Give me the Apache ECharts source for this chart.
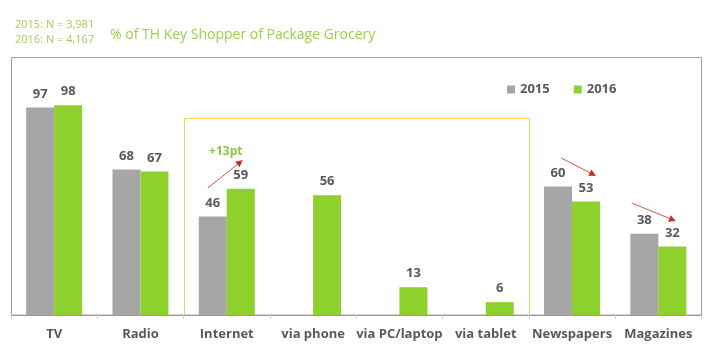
<!DOCTYPE html>
<html><head><meta charset="utf-8">
<script src="https://cdn.jsdelivr.net/npm/echarts@6/dist/echarts.min.js"></script>
<style>html,body{margin:0;padding:0;background:#fff}#c{width:719px;height:364px}</style>
</head><body><div id="c"></div>
<script>
const categories = ['TV','Radio','Internet','via phone','via PC/laptop','via tablet','Newspapers','Magazines'];
const values2015 = [97, 68, 46, null, null, null, 60, 38];
const values2016 = [98, 67, 59, 56, 13, 6, 53, 32];
const seriesNames = ['2015','2016'];
const sampleNotes = ['2015: N = 3,981','2016: N = 4,167'];
const titleText = '% of TH Key Shopper of Package Grocery';
const changeNote = '+13pt';

const GRAY = '#a6a6a6', GREEN = '#8ed12c', TXT = '#595959', FONT = '"Open Sans", sans-serif';
const chart = echarts.init(document.getElementById('c'), null, {renderer:'canvas'});
const labelStyle = {show:true, position:'top', distance:7, color:TXT, fontWeight:'bold', fontSize:13, fontFamily:FONT};
chart.setOption({
  animation:false,
  grid:{left:11, right:17.5, top:101, bottom:49},
  legend:{left:502, top:78, itemWidth:8, itemHeight:8, itemGap:24, icon:'rect',
    textStyle:{color:TXT, fontWeight:'bold', fontSize:13, fontFamily:FONT}, data:seriesNames},
  xAxis:{type:'category', data:categories,
    axisLine:{lineStyle:{color:'#9a9a9a', width:1}},
    axisTick:{show:true, length:4, lineStyle:{color:'#d0d0d0'}},
    axisLabel:{interval:0, color:TXT, fontWeight:'bold', fontSize:13, fontFamily:FONT, margin:13}},
  yAxis:{type:'value', min:0, max:100, show:false, splitLine:{show:false}},
  series:[
    {name:seriesNames[0], type:'bar', data:values2015, barWidth:28, barGap:'0%', itemStyle:{color:GRAY}, label:labelStyle},
    {name:seriesNames[1], type:'bar', data:values2016, barWidth:28, barGap:'0%', itemStyle:{color:GREEN}, label:labelStyle}
  ]
});

function px(cat, val){ return chart.convertToPixel({xAxisIndex:0, yAxisIndex:0}, [cat, val]); }
const c0 = px(0,0), c1 = px(1,0);
const band = c1[0]-c0[0];
const base = c0[1];

function arrow(cat, dx1, v1, dx2, v2){
  const a = px(cat, v1), b = px(cat, v2);
  const x1=a[0]+dx1, y1=a[1], x2=b[0]+dx2, y2=b[1];
  const ang = Math.atan2(y2-y1, x2-x1), L=7, W=3.5;
  const hx = x2 - L*Math.cos(ang), hy = y2 - L*Math.sin(ang);
  return [
    {type:'line', shape:{x1:x1,y1:y1,x2:hx,y2:hy}, style:{stroke:'#d9534f', lineWidth:1}},
    {type:'polygon', shape:{points:[[x2,y2],[hx+W*Math.sin(ang),hy-W*Math.cos(ang)],[hx-W*Math.sin(ang),hy+W*Math.cos(ang)]]}, style:{fill:'#c9302c'}}
  ];
}

const inetX = px(2,0)[0], tabX = px(5,0)[0];
const boxTop = Math.round(px(2, 92)[1])+0.5;
const bxL = Math.round(inetX-band/2)+0.5, bxR = Math.round(tabX+band/2)+0.5;
const graphics = [
  {type:'rect', shape:{x:11.5, y:57.5, width:690, height:base-57.5}, style:{fill:null, stroke:'#a0a0a0', lineWidth:1}, z:-1},
  {type:'polyline', shape:{points:[[bxL,base-1],[bxL,boxTop],[bxR,boxTop],[bxR,base-1]]}, style:{fill:null, stroke:'#f2cf5b', lineWidth:1}},
  {type:'text', x:15, y:19, style:{text:sampleNotes[0], fill:'#a3cf55', fontSize:11, fontFamily:FONT}},
  {type:'text', x:15, y:34, style:{text:sampleNotes[1], fill:'#a3cf55', fontSize:11, fontFamily:FONT}},
  {type:'text', x:110, y:28, style:{text:titleText, fill:'#9bd04a', fontSize:14, fontFamily:FONT}},
  {type:'text', x:px(2,76.5)[0]-1, y:px(2,76.5)[1], style:{text:changeNote, fill:'#8cc63f', fontSize:12, fontWeight:'bold', fontFamily:FONT, align:'center', verticalAlign:'middle'}}
].concat(arrow(2,-19,59.3,16,72.4), arrow(6,-11,73.4,24,65), arrow(7,-26.5,52.3,17.5,43.9));
chart.setOption({graphic:graphics});
</script></body></html>
